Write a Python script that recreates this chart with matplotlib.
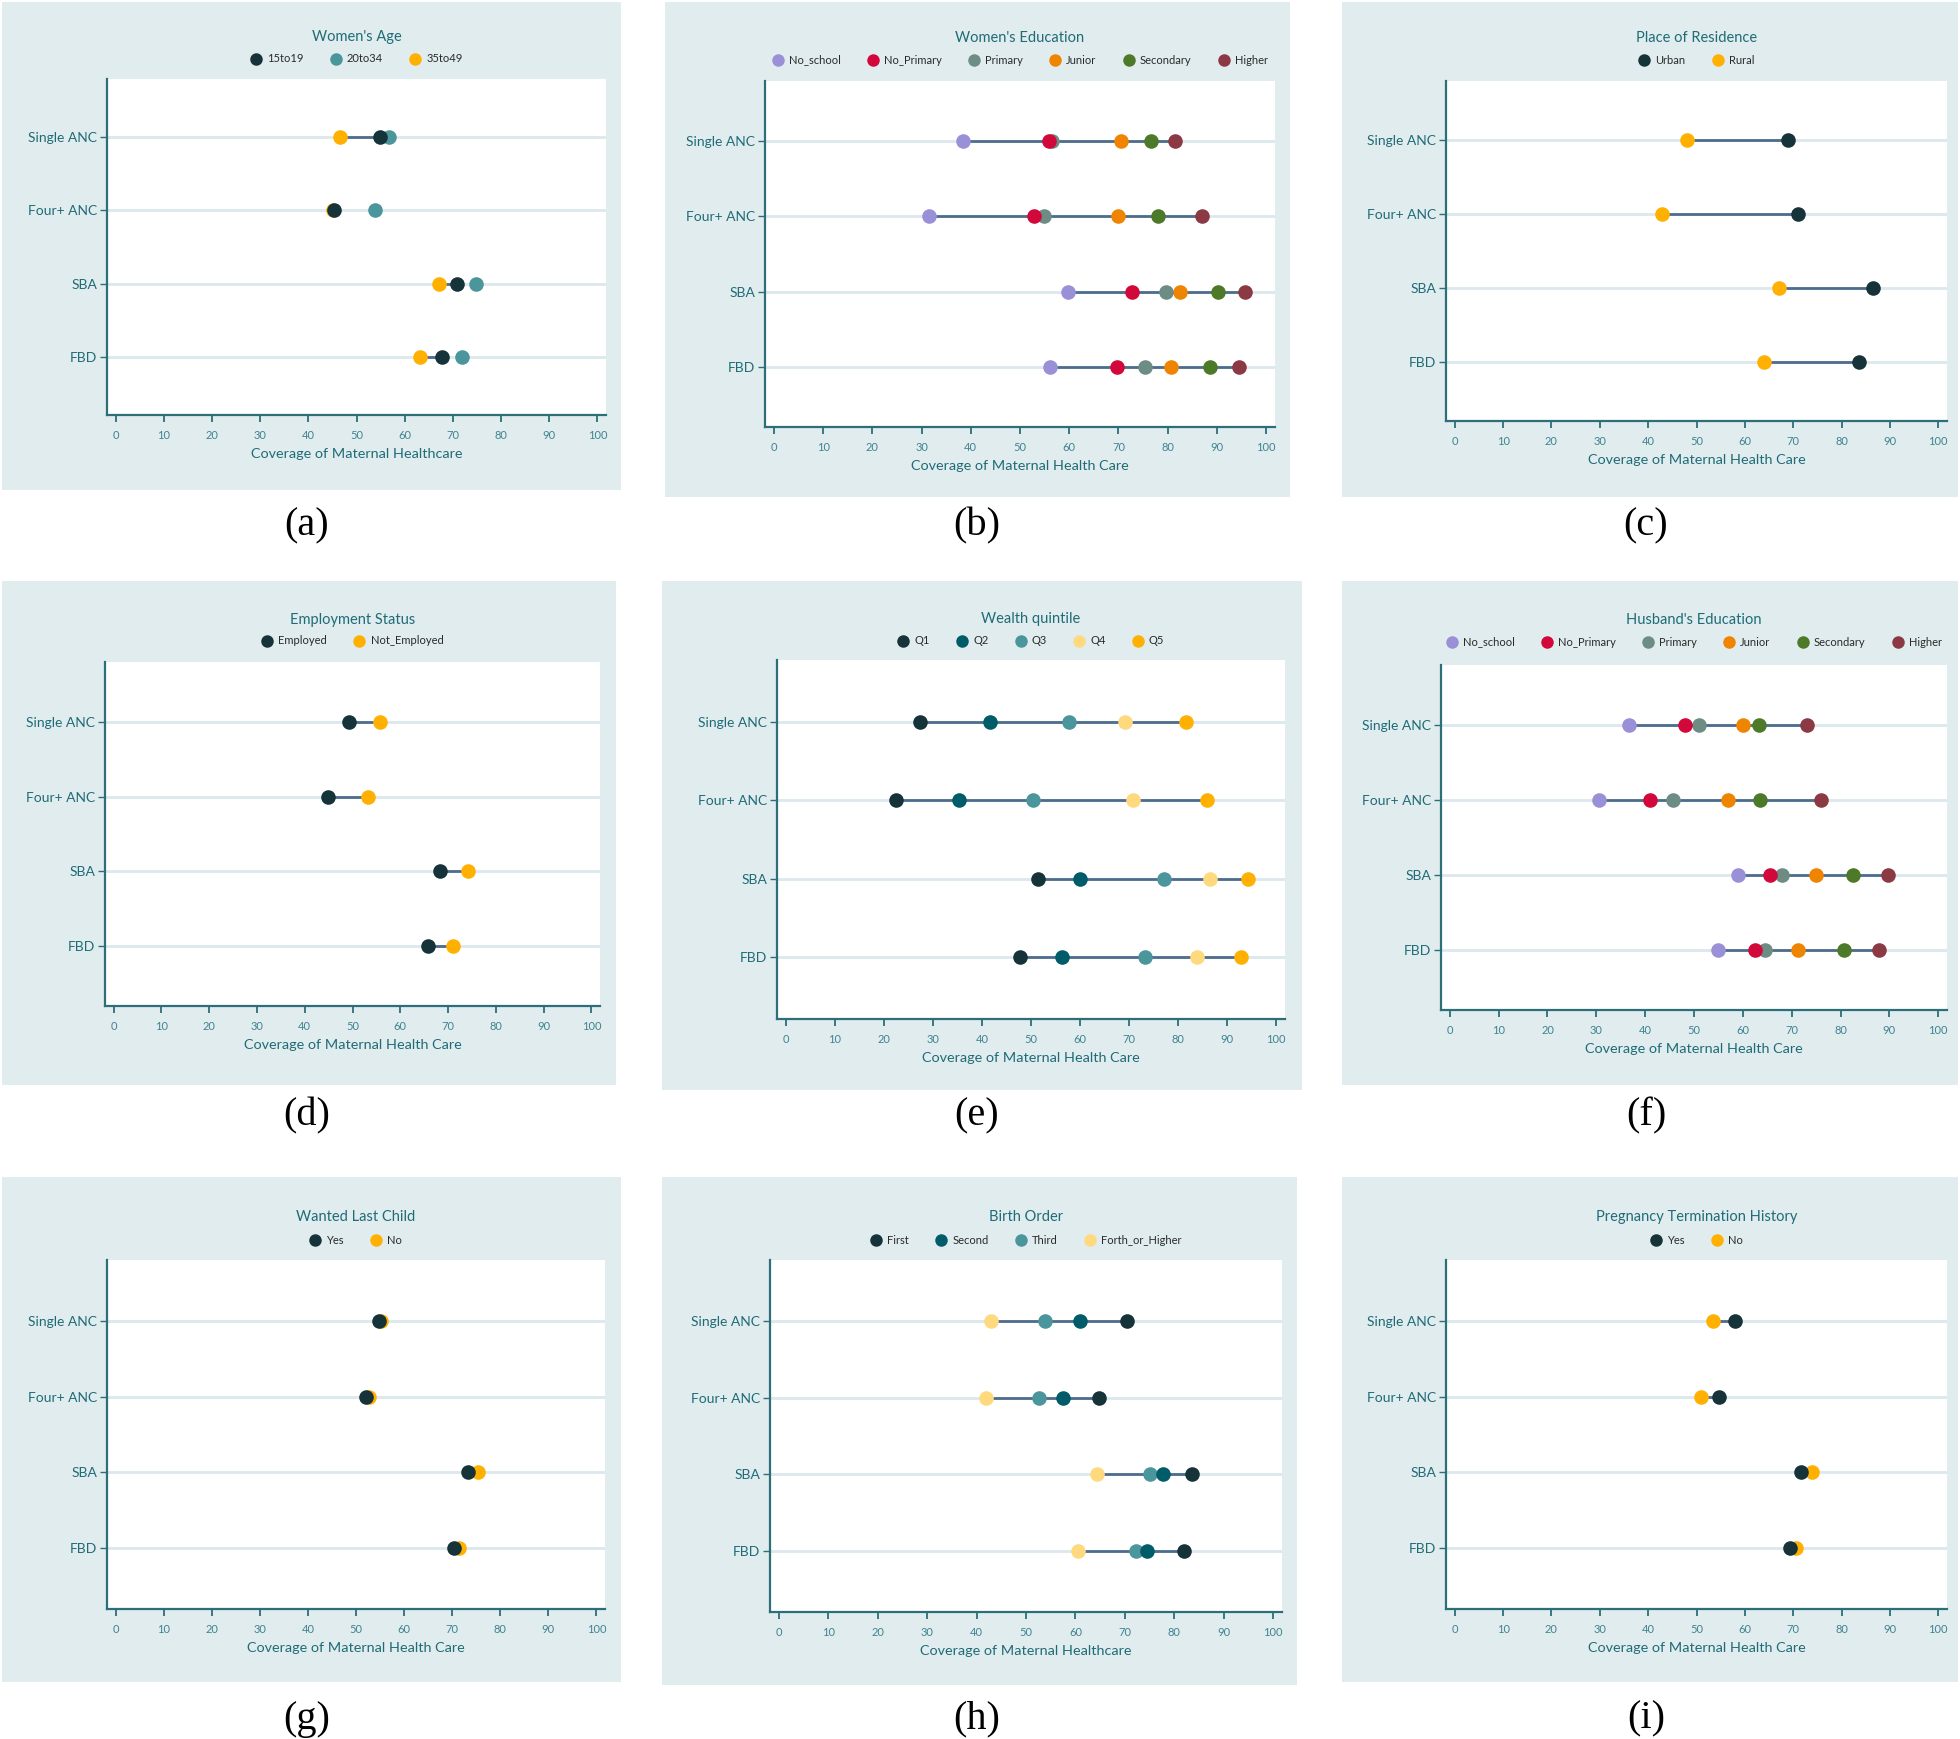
import matplotlib
matplotlib.use("Agg")
import matplotlib.pyplot as plt
from matplotlib.patches import Rectangle
from matplotlib.lines import Line2D

plt.rcParams['font.family'] = ['Lato', 'DejaVu Sans']

# ---------------- data ----------------
categories = ["Single ANC", "Four+ ANC", "SBA", "FBD"]
x_ticks = [0, 10, 20, 30, 40, 50, 60, 70, 80, 90, 100]

age_groups = ["15to19", "20to34", "35to49"]
age_values = [[54.8, 45.4, 70.8, 67.7],
              [56.7, 53.9, 74.8, 72.0],
              [46.5, 45.2, 67.1, 63.2]]

wedu_groups = ["No_school", "No_Primary", "Primary", "Junior", "Secondary", "Higher"]
wedu_values = [[38.4, 31.5, 59.7, 56.1],
               [55.9, 52.9, 72.7, 69.7],
               [56.5, 54.9, 79.6, 75.4],
               [70.5, 69.9, 82.6, 80.7],
               [76.7, 78.0, 90.3, 88.6],
               [81.4, 87.0, 95.8, 94.4]]

res_groups = ["Urban", "Rural"]
res_values = [[68.9, 71.0, 86.5, 83.7],
              [48.0, 42.9, 67.0, 63.9]]

emp_groups = ["Employed", "Not_Employed"]
emp_values = [[49.2, 44.9, 68.4, 65.9],
              [55.7, 53.3, 74.1, 71.0]]

wealth_groups = ["Q1", "Q2", "Q3", "Q4", "Q5"]
wealth_values = [[27.4, 22.5, 51.5, 47.7],
                 [41.7, 35.4, 59.9, 56.4],
                 [57.8, 50.5, 77.1, 73.3],
                 [69.2, 70.8, 86.6, 83.9],
                 [81.6, 85.8, 94.2, 92.9]]

hedu_groups = ["No_school", "No_Primary", "Primary", "Junior", "Secondary", "Higher"]
hedu_values = [[36.6, 30.6, 59.0, 54.9],
               [48.1, 41.0, 65.6, 62.4],
               [51.1, 45.6, 68.0, 64.6],
               [60.1, 56.9, 75.0, 71.3],
               [63.3, 63.6, 82.6, 80.7],
               [73.2, 76.0, 89.7, 87.8]]

want_groups = ["Yes", "No"]
want_values = [[54.8, 52.1, 73.2, 70.3],
               [55.3, 52.7, 75.4, 71.4]]

birth_groups = ["First", "Second", "Third", "Forth_or_Higher"]
birth_values = [[70.4, 64.7, 83.5, 81.9],
                [60.9, 57.4, 77.7, 74.4],
                [53.9, 52.6, 75.0, 72.2],
                [43.0, 42.0, 64.4, 60.5]]

preg_groups = ["Yes", "No"]
preg_values = [[57.9, 54.6, 71.7, 69.4],
               [53.5, 51.0, 73.8, 70.6]]

# ---------------- styles ----------------
DARK = "#16333a"
TEAL = "#4b969c"
DTEAL = "#005c68"
YEL = "#ffb000"
LYEL = "#ffd97e"
EDU_COLORS = ["#9a90d8", "#d3083a", "#6d8c84", "#ee8400", "#4d7a28", "#8b3943"]
BG = "#e1ecef"
SPINE = "#2c6f79"
TXT = "#1f6c76"
LINE = "#4d6d8d"
GRID = "#dce8ee"

W, H = 1960, 1739
fig = plt.figure(figsize=(W / 100, H / 100), dpi=100)
fig.patch.set_facecolor("white")


def fx(px):
    return px / W


def fy(py):
    return 1 - py / H


panels = [
    dict(bg=(2, 2, 621, 490), ax=(107, 79, 606, 415), title="Women's Age",
         ty=37, ly=59, groups=age_groups, values=age_values,
         colors=[DARK, TEAL, YEL], xlabel="Coverage of Maternal Healthcare",
         cap="(a)", capx=307, capy=526, link="ends"),
    dict(bg=(665, 2, 1290, 497), ax=(765, 81, 1275, 427), title="Women's Education",
         ty=38, ly=60, groups=wedu_groups, values=wedu_values,
         colors=EDU_COLORS, xlabel="Coverage of Maternal Health Care",
         cap="(b)", capx=977, capy=526, link="range"),
    dict(bg=(1342, 2, 1958, 497), ax=(1446, 81, 1947, 421), title="Place of Residence",
         ty=38, ly=60, groups=res_groups, values=res_values,
         colors=[DARK, YEL], xlabel="Coverage of Maternal Health Care",
         cap="(c)", capx=1646, capy=526, link="range"),
    dict(bg=(2, 581, 616, 1085), ax=(105, 662, 600, 1006), title="Employment Status",
         ty=620, ly=641, groups=emp_groups, values=emp_values,
         colors=[DARK, YEL], xlabel="Coverage of Maternal Health Care",
         cap="(d)", capx=307, capy=1116, link="range"),
    dict(bg=(662, 581, 1302, 1090), ax=(777, 660, 1285, 1019), title="Wealth quintile",
         ty=619, ly=641, groups=wealth_groups, values=wealth_values,
         colors=[DARK, DTEAL, TEAL, LYEL, YEL], xlabel="Coverage of Maternal Health Care",
         cap="(e)", capx=977, capy=1116, link="range"),
    dict(bg=(1342, 581, 1958, 1085), ax=(1441, 665, 1947, 1010), title="Husband's Education",
         ty=620, ly=642, groups=hedu_groups, values=hedu_values,
         colors=EDU_COLORS, xlabel="Coverage of Maternal Health Care",
         cap="(f)", capx=1646, capy=1116, link="range"),
    dict(bg=(2, 1177, 621, 1682), ax=(107, 1260, 605, 1609), title="Wanted Last Child",
         ty=1217, ly=1240, groups=want_groups, values=want_values,
         colors=[DARK, YEL], xlabel="Coverage of Maternal Health Care",
         cap="(g)", capx=307, capy=1719, link="range"),
    dict(bg=(662, 1177, 1297, 1685), ax=(770, 1260, 1282, 1612), title="Birth Order",
         ty=1217, ly=1240, groups=birth_groups, values=birth_values,
         colors=[DARK, DTEAL, TEAL, LYEL], xlabel="Coverage of Maternal Healthcare",
         cap="(h)", capx=977, capy=1719, link="range"),
    dict(bg=(1342, 1177, 1958, 1682), ax=(1446, 1260, 1947, 1609), title="Pregnancy Termination History",
         ty=1217, ly=1240, groups=preg_groups, values=preg_values,
         colors=[DARK, YEL], xlabel="Coverage of Maternal Health Care",
         cap="(i)", capx=1646, capy=1719, link="range"),
]

ypos = [4, 3, 2, 1]

for p in panels:
    x0, y0, x1, y1 = p["bg"]
    fig.patches.append(Rectangle((fx(x0), fy(y1)), fx(x1) - fx(x0), fy(y0) - fy(y1),
                                 transform=fig.transFigure, facecolor=BG,
                                 edgecolor="none", zorder=-10))
    l, t, r, b = p["ax"]
    ax = fig.add_axes([fx(l), fy(b), fx(r) - fx(l), fy(t) - fy(b)])
    ax.set_zorder(1)
    ax.set_facecolor("white")
    ax.set_xlim(-1.8, 101.8)
    ax.set_ylim(0.2, 4.8)
    for s in ["top", "right"]:
        ax.spines[s].set_visible(False)
    for s in ["left", "bottom"]:
        ax.spines[s].set_color(SPINE)
        ax.spines[s].set_linewidth(1.6)
    ax.set_xticks(x_ticks)
    ax.set_xticklabels([str(v) for v in x_ticks])
    ax.set_yticks(ypos)
    ax.set_yticklabels(categories)
    ax.tick_params(axis="x", colors=SPINE, labelcolor="#3f8390", labelsize=8,
                   length=5, width=1.3, pad=6)
    ax.tick_params(axis="y", colors=SPINE, labelcolor=TXT, labelsize=10,
                   length=5, width=1.0, pad=2)
    for yy in ypos:
        ax.axhline(yy, color=GRID, lw=2, zorder=1)
    ax.set_xlabel(p["xlabel"], fontsize=10.4, color=TXT, labelpad=5)

    vals = p["values"]
    for i, yy in enumerate(ypos):
        row = [v[i] for v in vals]
        if p["link"] == "ends":
            xa, xb = row[0], row[-1]
        else:
            xa, xb = min(row), max(row)
        ax.plot([xa, xb], [yy, yy], color=LINE, lw=2.0, zorder=2,
                solid_capstyle="butt")
    for g in reversed(range(len(p["groups"]))):
        ax.plot(vals[g], ypos, ls="", marker="o", markersize=10.5,
                color=p["colors"][g], markeredgewidth=0, zorder=3 + (len(p["groups"]) - g))

    cx = (l + r) / 2
    fig.text(fx(cx), fy(p["ty"]), p["title"], ha="center", va="center",
             fontsize=10.5, color=TXT)
    handles = [Line2D([], [], ls="", marker="o", markersize=9, color=c,
                      markeredgewidth=0, label=gname)
               for gname, c in zip(p["groups"], p["colors"])]
    fig.legend(handles=handles, loc="center", bbox_to_anchor=(fx(cx), fy(p["ly"])),
               ncol=len(handles), frameon=False, fontsize=8, handlelength=1.0,
               handletextpad=0.5, columnspacing=2.4, borderpad=0, labelcolor="#2a2a2a")
    fig.text(fx(p["capx"]), fy(p["capy"]), p["cap"], ha="center", va="center",
             fontsize=29, family="Liberation Serif", color="black")

fig.savefig("out.png", dpi=100, facecolor="white")
